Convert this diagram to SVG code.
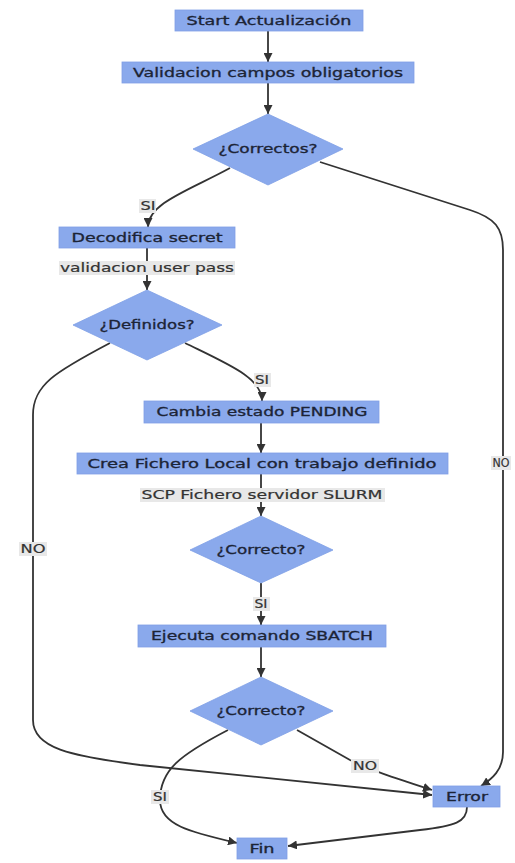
<svg xmlns="http://www.w3.org/2000/svg" width="515" height="863" viewBox="0 0 515 863">
  <style>
    .node rect, .node polygon { fill: #8aa9ec; stroke: #7f9fe6; stroke-width: 0.8; }
    .node text { font-family: "DejaVu Sans", Verdana, sans-serif; font-size: 11.5px; fill: #1c2436; stroke: #1c2436; stroke-width: 0.3; text-anchor: middle; }
    .edge { fill: none; stroke: #333; stroke-width: 1.8; }
    .lbl rect { fill: #e8e8e8; }
    .lbl text { font-family: "DejaVu Sans", Verdana, sans-serif; font-size: 11.5px; fill: #333; stroke: #333; stroke-width: 0.2; text-anchor: middle; }
  </style>
  <defs>
    <marker id="arrow" viewBox="0 0 10 10" refX="10" refY="5" markerWidth="9" markerHeight="9" markerUnits="userSpaceOnUse" orient="auto">
      <path d="M0,0 L10,5 L0,10 z" fill="#333"/>
    </marker>
  </defs>

  <!-- connectors -->
  <g id="connectors">
    <path class="edge" marker-end="url(#arrow)" d="M268,31 L268,62"/>
    <path class="edge" marker-end="url(#arrow)" d="M268,83 L268,114"/>
    <path class="edge" marker-end="url(#arrow)" d="M230,168 C190,190 148,203 148,227"/>
    <path class="edge" marker-end="url(#arrow)" d="M147,248 L147,290"/>
    <path class="edge" marker-end="url(#arrow)" d="M185,343 C230,365 262,378 262,401"/>
    <path class="edge" marker-end="url(#arrow)" d="M110,343 C55,372 33,385 33,415 L33,720 C33,748 70,756 140,765 L432,795"/>
    <path class="edge" marker-end="url(#arrow)" d="M320,162 L470,210 C495,218 503,228 503,250 L503,752 C503,770 492,779 481,786"/>
    <path class="edge" marker-end="url(#arrow)" d="M261,423 L261,453"/>
    <path class="edge" marker-end="url(#arrow)" d="M261,474 L261,516"/>
    <path class="edge" marker-end="url(#arrow)" d="M261,583 L261,625"/>
    <path class="edge" marker-end="url(#arrow)" d="M261,647 L261,677"/>
    <path class="edge" marker-end="url(#arrow)" d="M297,730 L350,760 C370,770 395,778 432,790"/>
    <path class="edge" marker-end="url(#arrow)" d="M228,730 C180,755 160,770 160,800 C160,825 190,832 237,843"/>
    <path class="edge" marker-end="url(#arrow)" d="M467,807 C467,822 455,826 420,830 L288,846"/>

    <!-- edge labels -->
    <g class="lbl">
      <rect x="139" y="199" width="17" height="14"/>
      <text x="148" y="210" textLength="15" lengthAdjust="spacingAndGlyphs">SI</text>
      <rect x="59" y="261" width="176" height="14"/>
      <text x="147" y="272" textLength="174" lengthAdjust="spacingAndGlyphs">validacion user pass</text>
      <rect x="254" y="373" width="17" height="14"/>
      <text x="262" y="384" textLength="14" lengthAdjust="spacingAndGlyphs">SI</text>
      <rect x="491" y="456" width="20" height="14"/>
      <text x="501" y="467" textLength="17" lengthAdjust="spacingAndGlyphs">NO</text>
      <rect x="19" y="542" width="28" height="14"/>
      <text x="33" y="553" textLength="25" lengthAdjust="spacingAndGlyphs">NO</text>
      <rect x="140" y="488" width="245" height="14"/>
      <text x="262" y="499" textLength="241" lengthAdjust="spacingAndGlyphs">SCP Fichero servidor SLURM</text>
      <rect x="253" y="597" width="17" height="14"/>
      <text x="261" y="608" textLength="13" lengthAdjust="spacingAndGlyphs">SI</text>
      <rect x="351" y="759" width="28" height="14"/>
      <text x="365" y="770" textLength="24" lengthAdjust="spacingAndGlyphs">NO</text>
      <rect x="151" y="790" width="18" height="14"/>
      <text x="160" y="801" textLength="14" lengthAdjust="spacingAndGlyphs">SI</text>
    </g>
  </g>

  <!-- nodes -->
  <g id="start" class="node">
    <rect x="175" y="10" width="188" height="21"/>
    <text x="269" y="25" textLength="165" lengthAdjust="spacingAndGlyphs">Start Actualización</text>
  </g>
  <g id="validacion" class="node">
    <rect x="122" y="62" width="292" height="21"/>
    <text x="268" y="77" textLength="270" lengthAdjust="spacingAndGlyphs">Validacion campos obligatorios</text>
  </g>
  <g id="correctos" class="node">
    <polygon points="268,114 343,149 268,185 193,149"/>
    <text x="268" y="153" textLength="99" lengthAdjust="spacingAndGlyphs">¿Correctos?</text>
  </g>
  <g id="decodifica" class="node">
    <rect x="59" y="227" width="176" height="21"/>
    <text x="147" y="242" textLength="151" lengthAdjust="spacingAndGlyphs">Decodifica secret</text>
  </g>
  <g id="definidos" class="node">
    <polygon points="147,290 222,325 147,360 73,325"/>
    <text x="147" y="329" textLength="95" lengthAdjust="spacingAndGlyphs">¿Definidos?</text>
  </g>
  <g id="pending" class="node">
    <rect x="144" y="401" width="235" height="22"/>
    <text x="262" y="416" textLength="211" lengthAdjust="spacingAndGlyphs">Cambia estado PENDING</text>
  </g>
  <g id="fichero" class="node">
    <rect x="77" y="453" width="371" height="21"/>
    <text x="262" y="468" textLength="349" lengthAdjust="spacingAndGlyphs">Crea Fichero Local con trabajo definido</text>
  </g>
  <g id="correcto1" class="node">
    <polygon points="261,516 333,550 261,583 190,550"/>
    <text x="261" y="554" textLength="89" lengthAdjust="spacingAndGlyphs">¿Correcto?</text>
  </g>
  <g id="sbatch" class="node">
    <rect x="138" y="625" width="248" height="22"/>
    <text x="262" y="640" textLength="222" lengthAdjust="spacingAndGlyphs">Ejecuta comando SBATCH</text>
  </g>
  <g id="correcto2" class="node">
    <polygon points="261,677 333,711 261,745 190,711"/>
    <text x="261" y="715" textLength="89" lengthAdjust="spacingAndGlyphs">¿Correcto?</text>
  </g>
  <g id="error" class="node">
    <rect x="433" y="786" width="67" height="21"/>
    <text x="467" y="801" textLength="42" lengthAdjust="spacingAndGlyphs">Error</text>
  </g>
  <g id="fin" class="node">
    <rect x="237" y="838" width="50" height="21"/>
    <text x="262" y="853" textLength="25" lengthAdjust="spacingAndGlyphs">Fin</text>
  </g>
</svg>
